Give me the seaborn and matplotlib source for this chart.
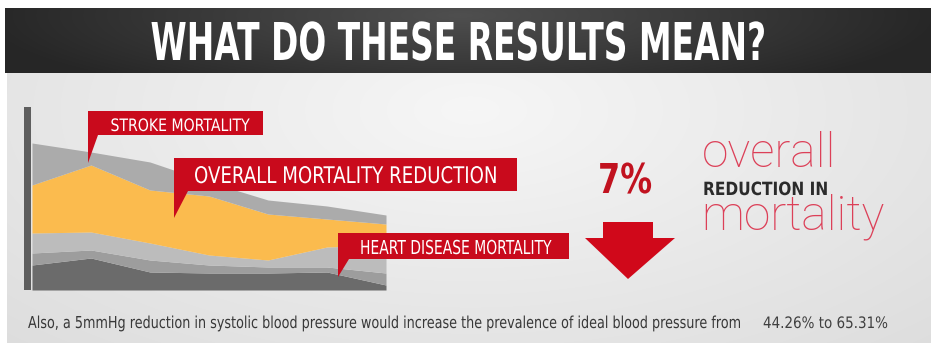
import numpy as np
import matplotlib
matplotlib.use("Agg")
import matplotlib.pyplot as plt
import seaborn as sns
from matplotlib.patches import Polygon, Rectangle
from matplotlib import patheffects
from matplotlib.transforms import Affine2D

# ---- data -------------------------------------------------------------
# stacked mortality bands, listed bottom to top (relative units)
periods = [0, 1, 2, 3, 4, 5, 6]
base_mortality = [25, 32, 18, 17, 17, 18, 5]
heart_disease_band = [12, 8, 12, 8, 6, 5, 12]
lower_band = [20, 18, 17, 10, 7, 20, 28]
overall_reduction = [48, 67, 53, 59, 46, 28, 21]
stroke_band = [42, 13, 28, 14, 14, 13, 9]

band_colors = ["#6b6b6b", "#9d9d9d", "#bcbcbc", "#fbbb4e", "#ababab"]

title = "WHAT DO THESE RESULTS MEAN?"
callout_labels = ["STROKE MORTALITY", "OVERALL MORTALITY REDUCTION",
                  "HEART DISEASE MORTALITY"]
headline_value = "7%"
side_words = ["overall", "REDUCTION IN", "mortality"]
footnote = ("Also, a 5mmHg reduction in systolic blood pressure would "
            "increase the prevalence of ideal blood pressure from")
footnote_values = "44.26% to 65.31%"

RED = "#c90a1c"
SANS = ["DejaVu Sans"]
CAP_RATIO = 0.729          # DejaVu Sans cap height / em
W, H = 931, 345

sns.set_theme(style="white")
plt.rcParams["font.family"] = ["DejaVu Sans"]

fig = plt.figure(figsize=(W / 100, H / 100), dpi=100, facecolor="white")

# ---- background layer (pixel coordinates) ------------------------------
bg = fig.add_axes([0, 0, 1, 1], zorder=0)
bg.axis("off")

# soft light-grey panel
py0, py1, px0 = 73, 343, 7
yy, xx = np.mgrid[py0:py1, px0:W].astype(float)
d = np.sqrt(((xx - 470) / 520) ** 2 + ((yy - 110) / 250) ** 2)
panel = 0.965 - 0.075 * np.clip(d, 0, 1.3)
bg.imshow(np.dstack([panel] * 3), extent=[px0, W, py1, py0], origin="upper",
          aspect="auto", interpolation="bilinear", zorder=0)

# dark title band
hy0, hy1, hx0 = 8, 73, 5
yy, xx = np.mgrid[hy0:hy1, hx0:W].astype(float)
d = np.sqrt(((xx - 460) / 480) ** 2 + ((yy - 15) / 90) ** 2)
band = 0.31 - 0.16 * np.clip(d, 0, 1.0)
bg.imshow(np.dstack([band] * 3), extent=[hx0, W, hy1, hy0], origin="upper",
          aspect="auto", interpolation="bilinear", zorder=1)
bg.set_xlim(0, W)
bg.set_ylim(H, 0)

# vertical axis bar of the area chart
bg.add_patch(Rectangle((24, 107), 7, 183, color="#5e5e5e", lw=0, zorder=2))

# ---- stacked area chart -------------------------------------------------
ax = fig.add_axes([32 / W, 55 / H, 354 / W, 150 / H], zorder=1)
ax.stackplot(periods, base_mortality, heart_disease_band, lower_band,
             overall_reduction, stroke_band, colors=band_colors, linewidth=0)
ax.set_xlim(periods[0], periods[-1])
ax.set_ylim(0, 150)
ax.patch.set_alpha(0)
sns.despine(ax=ax, left=True, bottom=True)
ax.set_xticks([])
ax.set_yticks([])

# ---- overlay: callouts and text ----------------------------------------
ov = fig.add_axes([0, 0, 1, 1], zorder=2)
ov.set_xlim(0, W)
ov.set_ylim(H, 0)
ov.axis("off")
ov.patch.set_alpha(0)

callout_shapes = [
    [(88, 111), (263, 111), (263, 135), (98, 135), (88, 163)],
    [(174, 158), (517, 158), (517, 191), (188, 191), (174, 218)],
    [(338, 233), (569, 233), (569, 259), (349, 259), (338, 277)],
]
for verts in callout_shapes:
    ov.add_patch(Polygon(verts, closed=True, color=RED, lw=0))

# down arrow
ov.add_patch(Polygon([(603, 222), (653, 222), (653, 238), (675, 238),
                      (628, 279), (585, 238), (603, 238)],
                     closed=True, color="#d0081a", lw=0))


class Condense(patheffects.AbstractPathEffect):
    """Scale glyph outlines about a fixed display point (anchor, baseline)."""

    def __init__(self, sx, sy, cx, cy):
        super().__init__()
        self.sx, self.sy, self.cx, self.cy = sx, sy, cx, cy

    def draw_path(self, renderer, gc, tpath, affine, rgbFace=None):
        a = affine + Affine2D().translate(-self.cx, -self.cy) \
            .scale(self.sx, self.sy).translate(self.cx, self.cy)
        renderer.draw_path(gc, tpath, a, rgbFace)


fitted = []


def label(x, y, s, width=None, cap=None, **kw):
    t = ov.text(x, y, s, va="baseline", **kw)
    if width is not None:
        fitted.append((t, x, y, width, cap))
    return t


label(458, 60, title, width=615, cap=38, ha="center", color="white",
      fontsize=24, fontfamily=SANS, fontweight="bold")

label(180, 131, callout_labels[0], width=139, cap=12.5, ha="center",
      color="white", fontsize=10, fontfamily=SANS)
label(345.5, 183, callout_labels[1], width=303, cap=16.7, ha="center",
      color="white", fontsize=14, fontfamily=SANS)
label(456, 254, callout_labels[2], width=192, cap=14, ha="center",
      color="white", fontsize=10, fontfamily=SANS)

label(625, 193, headline_value, width=54, cap=30, ha="center",
      color="#c1121f", fontsize=22, fontfamily=SANS, fontweight="bold")

label(702, 167, side_words[0], ha="left", color="#dc4058", fontsize=34.5,
      fontfamily=["Roboto", "DejaVu Sans"], fontweight="light")
label(703, 195, side_words[1], width=125, cap=13.3, ha="left",
      color="#2b2b2b", fontsize=10, fontfamily=SANS, fontweight="bold")
label(701, 230, side_words[2], ha="left", color="#dc4058", fontsize=34.5,
      fontfamily=["Roboto", "DejaVu Sans"], fontweight="light")

label(28, 328, footnote, width=718, cap=12, ha="left", color="#383838",
      fontsize=9, fontfamily=SANS)
label(763, 328, footnote_values, width=125, cap=11.5, ha="left",
      color="#404040", fontsize=9, fontfamily=SANS)

# size each condensed line to its width, then stretch it to its cap height
renderer = fig.canvas.get_renderer()
for t, x, y, width, cap in fitted:
    w0 = t.get_window_extent(renderer=renderer).width
    t.set_fontsize(t.get_fontsize() * width / w0)
    w1 = t.get_window_extent(renderer=renderer).width
    em_px = t.get_fontsize() * fig.dpi / 72
    cx, cy = ov.transData.transform((x, y))
    t.set_path_effects([Condense(width / w1, cap / (CAP_RATIO * em_px),
                                 cx, cy)])

fig.savefig("out.png", dpi=100, facecolor="white")
